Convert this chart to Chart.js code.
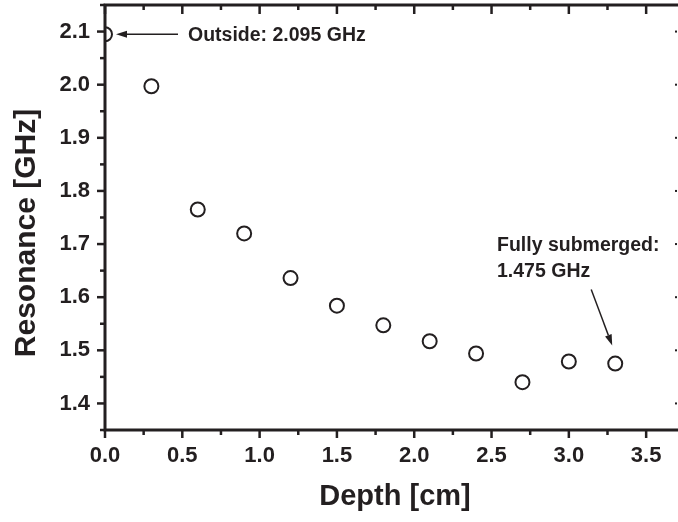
<!DOCTYPE html>
<html>
<head>
<meta charset="utf-8">
<script src="https://cdn.jsdelivr.net/npm/chart.js@4"></script>
<style>
  html, body { margin: 0; padding: 0; background: #fff; overflow: hidden; }
</style>
</head>
<body>
<canvas id="myChart" width="678" height="522"></canvas>
<script>
  // depth below surface vs measured resonance
  const depth = [0, 0.3, 0.6, 0.9, 1.2, 1.5, 1.8, 2.1, 2.4, 2.7, 3.0, 3.3];
  const resonance = [2.095, 1.997, 1.765, 1.720, 1.636, 1.584, 1.547, 1.517, 1.494, 1.440, 1.479, 1.475];
  const xTicks = [0, 0.5, 1.0, 1.5, 2.0, 2.5, 3.0, 3.5];
  const yTicks = [1.4, 1.5, 1.6, 1.7, 1.8, 1.9, 2.0, 2.1];

  const ink = '#231f20';
  const fam = "'Liberation Sans', Arial, sans-serif";

  function arrow(ctx, x0, y0, x1, y1) {
    const ang = Math.atan2(y1 - y0, x1 - x0);
    const len = 11, hw = 3.5;
    const bx = x1 - len * Math.cos(ang), by = y1 - len * Math.sin(ang);
    ctx.beginPath();
    ctx.moveTo(x0, y0);
    ctx.lineTo(bx, by);
    ctx.stroke();
    ctx.beginPath();
    ctx.moveTo(x1, y1);
    ctx.lineTo(bx + hw * Math.sin(ang), by - hw * Math.cos(ang));
    ctx.lineTo(bx - hw * Math.sin(ang), by + hw * Math.cos(ang));
    ctx.closePath();
    ctx.fill();
  }

  const frame = {
    id: 'frame',
    afterDatasetsDraw(chart) {
      const { ctx, chartArea: a, scales: { x, y } } = chart;
      ctx.save();
      ctx.strokeStyle = ink;
      ctx.fillStyle = ink;
      ctx.lineWidth = 3;
      ctx.beginPath();
      ctx.moveTo(a.left, a.bottom + 1.5);
      ctx.lineTo(a.left, a.top);
      ctx.lineTo(a.right, a.top);
      ctx.moveTo(a.left - 1.5, a.bottom);
      ctx.lineTo(a.right, a.bottom);
      ctx.stroke();

      ctx.lineWidth = 2.5;
      for (let i = 0; i <= 14; i++) {
        const v = i * 0.25;
        const px = x.getPixelForValue(v);
        const major = i % 2 === 0;
        ctx.beginPath();
        ctx.moveTo(px, a.bottom);
        ctx.lineTo(px, a.bottom + (major ? 8 : 5));
        ctx.moveTo(px, a.top);
        ctx.lineTo(px, a.top + (major ? 9 : 5));
        ctx.stroke();
      }
      for (let i = 27; i <= 43; i++) {
        const py = y.getPixelForValue(i * 0.05);
        const major = i % 2 === 0;
        ctx.beginPath();
        ctx.moveTo(a.left, py);
        ctx.lineTo(a.left - (major ? 8 : 5), py);
        ctx.stroke();
        if (major) {
          ctx.fillRect(a.right - 3, py - 1, 2, 2);
        }
      }

      // axis titles
      ctx.textAlign = 'center';
      ctx.textBaseline = 'middle';
      ctx.font = 'bold 29px ' + fam;
      ctx.fillText('Depth [cm]', 395, 497);
      ctx.save();
      ctx.font = 'bold 30px ' + fam;
      ctx.translate(27, 233);
      ctx.rotate(-Math.PI / 2);
      ctx.fillText('Resonance [GHz]', 0, 0);
      ctx.restore();

      // annotations
      ctx.lineWidth = 1.5;
      const p0x = x.getPixelForValue(depth[0]), p0y = y.getPixelForValue(resonance[0]);
      arrow(ctx, p0x + 73, p0y, p0x + 11, p0y);
      const pNx = x.getPixelForValue(depth[depth.length - 1]), pNy = y.getPixelForValue(resonance[resonance.length - 1]);
      arrow(ctx, pNx - 24, pNy - 74, pNx - 3, pNy - 18);

      ctx.font = 'bold 19.5px ' + fam;
      ctx.textAlign = 'left';
      ctx.fillText('Outside: 2.095 GHz', p0x + 83, p0y + 1);
      ctx.fillText('Fully submerged:', 497, 246);
      ctx.fillText('1.475 GHz', 497, 272);
      ctx.restore();
    }
  };

  new Chart(document.getElementById('myChart'), {
    type: 'scatter',
    data: {
      datasets: [{
        data: depth.map((d, i) => ({ x: d, y: resonance[i] })),
        pointStyle: 'circle',
        pointRadius: 7,
        pointBorderWidth: 2,
        pointBackgroundColor: '#fff',
        pointBorderColor: ink,
        showLine: false,
        clip: 0
      }]
    },
    options: {
      responsive: false,
      devicePixelRatio: 1,
      animation: false,
      events: [],
      layout: { autoPadding: false, padding: { top: 5, right: 0, left: 0, bottom: 0 } },
      plugins: { legend: { display: false }, tooltip: { enabled: false } },
      scales: {
        x: {
          type: 'linear',
          min: 0,
          max: 3.706,
          grid: { display: false, drawTicks: false },
          border: { display: false },
          afterBuildTicks: s => { s.ticks = xTicks.map(v => ({ value: v })); },
          afterFit: s => { s.height = 92; s.paddingLeft = 0; s.paddingRight = 0; },
          ticks: {
            color: ink,
            padding: 13,
            maxRotation: 0,
            font: { family: fam, size: 22, weight: 'bold' },
            callback: v => v.toFixed(1)
          }
        },
        y: {
          min: 1.35,
          max: 2.15,
          grid: { display: false, drawTicks: false },
          border: { display: false },
          afterBuildTicks: s => { s.ticks = yTicks.map(v => ({ value: v })); },
          afterFit: s => { s.width = 105; s.paddingTop = 0; s.paddingBottom = 0; },
          ticks: {
            color: ink,
            padding: 15,
            font: { family: fam, size: 22, weight: 'bold' },
            callback: v => v.toFixed(1)
          }
        }
      }
    },
    plugins: [frame]
  });
</script>
</body>
</html>
